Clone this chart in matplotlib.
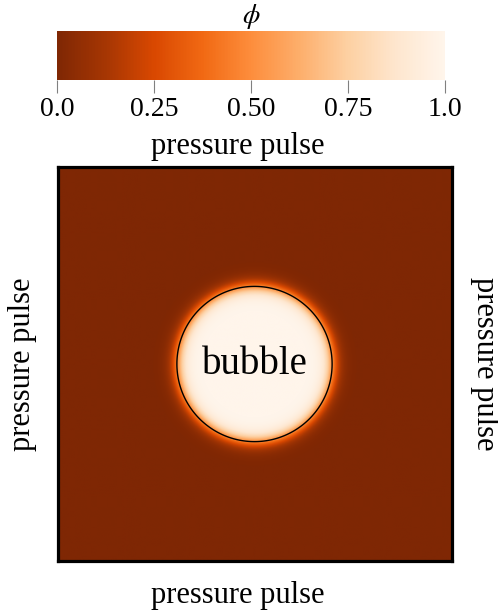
import numpy as np
import matplotlib.pyplot as plt
import matplotlib as mpl

# Paràmetres de la bombolla (camp de fase phi)
centre = (0.5, 0.5)
radi = 0.197
amplada_interficie = 0.022
n_punts = 400

ticks_cb = [0.0, 0.25, 0.5, 0.75, 1.0]
etiquetes_cb = ['0.0', '0.25', '0.50', '0.75', '1.0']

plt.rcParams['font.family'] = ['Liberation Serif', 'DejaVu Serif']
plt.rcParams['mathtext.fontset'] = 'stix'

x = np.linspace(0, 1, n_punts)
y = np.linspace(0, 1, n_punts)
X, Y = np.meshgrid(x, y)
r = np.sqrt((X - centre[0])**2 + (Y - centre[1])**2)
phi = 0.5 * (1 + np.tanh((radi - r) / amplada_interficie))

fig = plt.figure(figsize=(4.98, 6.13), dpi=100)
ax = fig.add_axes([57/498, 52/613, 395/498, 394/613])
cax = fig.add_axes([57/498, 533/613, 388/498, 49/613])

im = ax.imshow(phi, cmap='Oranges_r', vmin=0, vmax=1, origin='lower',
               extent=[0, 1, 0, 1], interpolation='bilinear')
ax.contour(X, Y, phi, levels=[0.5], colors='black', linewidths=1.0)
ax.set_xticks([])
ax.set_yticks([])
for s in ax.spines.values():
    s.set_linewidth(2.3)

ax.text(0.5, 0.5, 'bubble', fontsize=28, ha='center', va='center')
ax.text(0.457, -0.05, 'pressure pulse', fontsize=22, ha='center', va='top',
        transform=ax.transAxes)
ax.text(0.457, 1.014, 'pressure pulse', fontsize=22, ha='center', va='bottom',
        transform=ax.transAxes)
ax.text(-0.09, 0.5, 'pressure pulse', fontsize=22, ha='center', va='center',
        rotation=90, transform=ax.transAxes)
ax.text(1.085, 0.5, 'pressure pulse', fontsize=22, ha='center', va='center',
        rotation=-90, transform=ax.transAxes)

cb = fig.colorbar(im, cax=cax, orientation='horizontal')
cb.outline.set_visible(False)
cb.set_ticks(ticks_cb)
cb.set_ticklabels(etiquetes_cb)
cax.tick_params(length=9.5, width=0.8, color='grey', labelsize=20, pad=3)
cax.set_title(r'$\phi$', fontsize=20, pad=6)

fig.savefig('out.png', dpi=100)
